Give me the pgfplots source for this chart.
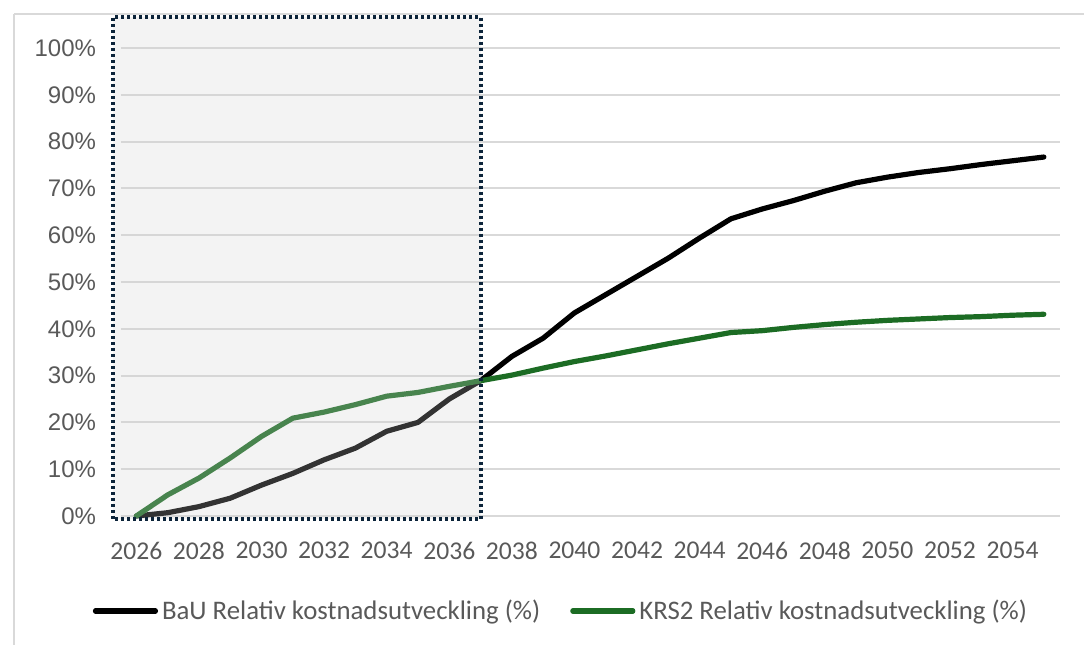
\documentclass[border=0pt]{standalone}
\usepackage{fontspec}
\setmainfont{Liberation Sans}
\newfontfamily\narrowfont{Carlito}
\usepackage{pgfplots}
\pgfplotsset{compat=1.18}
\usepackage{pgfplotstable}
\definecolor{txt}{RGB}{89,89,89}
\definecolor{gridc}{RGB}{217,217,217}
\definecolor{krs}{RGB}{28,108,36}
\definecolor{boxc}{RGB}{12,36,58}
\definecolor{shadec}{RGB}{207,207,207}

\pgfplotstableread{
year bau krs
2026 0 0
2027 0.7 4.5
2028 2.0 8.1
2029 3.8 12.4
2030 6.6 17.0
2031 9.1 20.9
2032 12.0 22.2
2033 14.5 23.8
2034 18.1 25.6
2035 20.0 26.4
2036 25.0 27.7
2037 28.9 28.9
2038 34.1 30.1
2039 38.0 31.6
2040 43.4 33.0
2041 47.3 34.2
2042 51.2 35.5
2043 55.1 36.8
2044 59.4 38.0
2045 63.5 39.2
2046 65.6 39.6
2047 67.4 40.3
2048 69.4 40.9
2049 71.2 41.4
2050 72.4 41.8
2051 73.4 42.1
2052 74.2 42.4
2053 75.1 42.6
2054 75.9 42.9
2055 76.7 43.1
}\data

\begin{document}
\begin{tikzpicture}
\useasboundingbox (0pt,0pt) rectangle (542pt,323pt);
\draw[gridc, line width=1pt] (7pt,316pt) -- (542pt,316pt);
\draw[gridc, line width=1pt] (7pt,316pt) -- (7pt,0.5pt);
\begin{axis}[
  at={(60.35pt,65pt)}, anchor=south west,
  scale only axis, width=469.4pt, height=234pt,
  xmin=2025.5, xmax=2055.5, ymin=0, ymax=100,
  clip=false,
  axis line style={draw=none},
  major tick length=0pt,
  ytick={0,10,...,100},
  xtick={2026,2028,...,2054},
  ymajorgrids,
  grid style={gridc, line width=1pt},
  /pgf/number format/assume math mode=true,
  yticklabel={\pgfmathprintnumber{\tick}\%},
  yticklabel style={font=\fontsize{12}{14}\selectfont, text=txt, xshift=-8.8pt},
  xticklabel style={font=\narrowfont\fontsize{12.8}{15}\selectfont, text=txt, yshift=-9.5pt, /pgf/number format/1000 sep={}},
  legend columns=2,
  legend style={font=\narrowfont\fontsize{13.4}{15}\selectfont, text=txt, draw=none, fill=none,
    at={(0.470,-0.203)}, anchor=center,
    /tikz/every even column/.append style={column sep=13pt}},
  legend image code/.code={\draw[#1, line cap=round] (0pt,0pt) -- (30pt,0pt);},
]
\addplot[black, line width=2.6pt, line join=round, line cap=round] table[x=year, y=bau] {\data};
\addlegendentry{BaU Relativ kostnadsutveckling (\%)}
\addplot[krs, line width=2.6pt, line join=round, line cap=round] table[x=year, y=krs] {\data};
\addlegendentry{KRS2 Relativ kostnadsutveckling (\%)}
\fill[shadec, fill opacity=0.25] (axis cs:2025.25,-0.6) rectangle (axis cs:2037,106.6);
\draw[boxc, line width=2pt, dash pattern=on 1.5pt off 1.5pt] (axis cs:2025.25,-0.6) rectangle (axis cs:2037,106.6);
\end{axis}
\end{tikzpicture}
\end{document}
